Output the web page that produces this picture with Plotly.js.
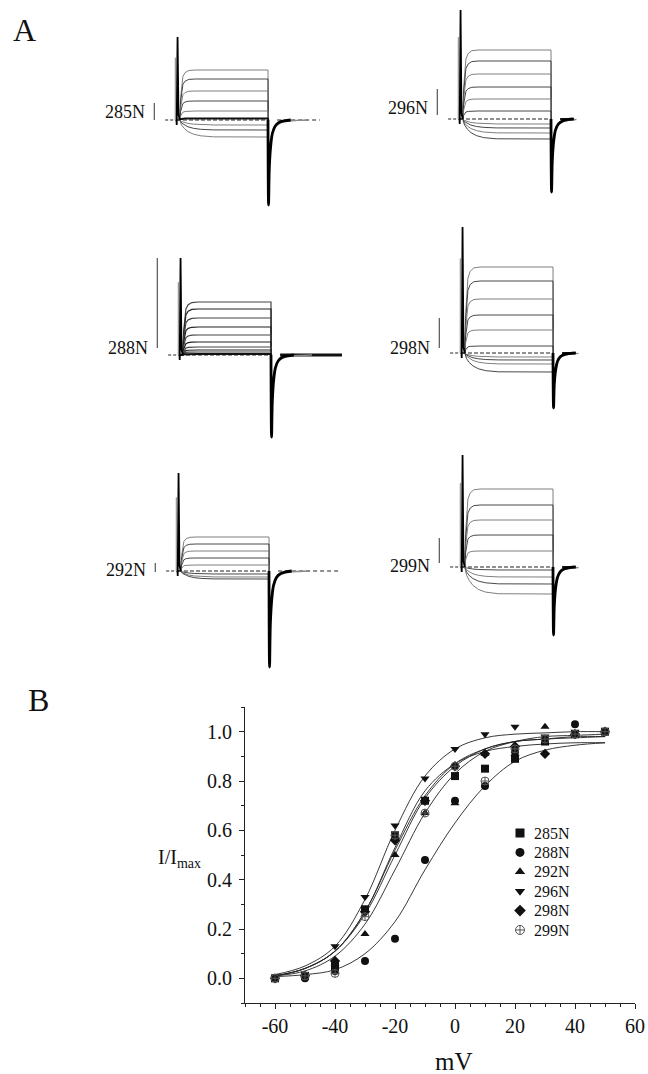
<!DOCTYPE html>
<html>
<head>
<meta charset="utf-8">
<script src="https://cdn.plot.ly/plotly-3.0.1.min.js"></script>
<style>html,body{margin:0;padding:0;background:#fff;}#chart{width:648px;height:1074px;}</style>
</head>
<body>
<div id="chart"></div>
<script>
// ---------------- Panel A data (current traces, arbitrary units relative to baseline) ----------
const mutants = ["285N", "296N", "288N", "298N", "292N", "299N"];
// steady-state current levels of each sweep
const levels285 = [50, 41, 29, 19, 9, 1.5, -5, -10, -17];
const levels296 = [69, 58, 45, 32, 20, 8, -5, -9, -14, -20];
const levels288 = [53, 46, 37, 28, 20, 13, 8, 5, 3, 1];
const levels298 = [86, 72, 54, 38, 23, 7, -4, -7, -11, -19];
const levels292 = [34, 27, 20, 13, 6, -3, -6, -8];
const levels299 = [78, 62, 47, 32, 16, -3, -10, -17, -27];
// capacitive transient peak at pulse onset, tail current minimum at pulse end
const spikeTop = [83, 109, 97, 126, 98, 112];
const tailMin = [-85, -73, -82, -55, -96, -68];
// scale-bar extent for each panel
const barLow = [0, 4, 7, 5, -1, 4];
const barHigh = [17, 30, 97, 35, 8, 29];
// sweep timing (ms)
const pulseStart = 3, pulseEnd = 100;
const sweepEnd = [157, 125, 178, 125, 178, 125];
const riseT = [0, 1, 2, 3.5, 6, 10, 17];          // fast activation time points after onset
const riseF = [0, 0.45, 0.7, 0.87, 0.95, 0.99, 1];
const slowT = [0, 2, 5, 9, 15, 23, 37];           // slow (inward) activation
const slowF = [0, 0.3, 0.5, 0.68, 0.83, 0.93, 0.99];
const tailT = [0, 0.6, 1.5, 3, 5, 8, 12, 18, 25];
const tailF = [0, 1, 0.55, 0.3, 0.15, 0.07, 0.03, 0.01, 0];

// ---------------- Panel B data (activation curves) ----------
const voltages = [-60, -50, -40, -30, -20, -10, 0, 10, 20, 30, 40, 50];
const norm285 = [0.00, 0.01, 0.05, 0.28, 0.58, 0.72, 0.82, 0.85, 0.89, 0.96, 0.99, 1.00];
const norm288 = [0.00, 0.00, 0.03, 0.07, 0.16, 0.48, 0.72, 0.78, 0.92, 0.97, 1.03, 1.00];
const norm292 = [0.00, 0.01, 0.06, 0.18, 0.50, 0.67, 0.71, 0.91, 0.91, 1.02, 0.99, 1.00];
const norm296 = [0.00, 0.01, 0.13, 0.33, 0.62, 0.81, 0.93, 0.99, 1.02, 0.98, 1.00, 1.00];
const norm298 = [0.00, 0.01, 0.07, 0.27, 0.56, 0.72, 0.86, 0.91, 0.94, 0.91, 0.99, 1.00];
const norm299 = [0.00, 0.01, 0.02, 0.25, 0.58, 0.67, 0.86, 0.80, 0.93, 0.97, 0.99, 1.00];
const fit285 = [0.01, 0.04, 0.11, 0.27, 0.52, 0.74, 0.87, 0.93, 0.96, 0.97, 0.975, 0.98];
const fit288 = [0.007, 0.015, 0.035, 0.10, 0.23, 0.44, 0.63, 0.78, 0.88, 0.925, 0.945, 0.955];
const fit292 = [0.01, 0.03, 0.09, 0.22, 0.44, 0.67, 0.83, 0.92, 0.96, 0.98, 0.985, 0.99];
const fit296 = [0.015, 0.05, 0.13, 0.32, 0.60, 0.82, 0.93, 0.975, 0.99, 0.995, 1.0, 1.0];
const fit298 = [0.01, 0.04, 0.11, 0.27, 0.53, 0.76, 0.87, 0.92, 0.94, 0.95, 0.955, 0.955];
const fit299 = [0.01, 0.04, 0.11, 0.26, 0.50, 0.73, 0.86, 0.93, 0.96, 0.97, 0.98, 0.98];
const tickVolts = [-60, -40, -20, 0, 20, 40, 60];

// ---------------- layout geometry ----------------
const W = 648, H = 1074;
const SERIF = "Liberation Serif, Times New Roman, serif";
const pxPerMs = 0.91;
const panelGeom = [ // spike x (px), baseline y (px), label y offset, post-tail style
  {sx: 177, by: 120, ly: 8, post: "dash"},
  {sx: 460, by: 119, ly: 11, post: "solid"},
  {sx: 180, by: 355, ly: 7, post: "thick"},
  {sx: 462, by: 353, ly: 5, post: "solid"},
  {sx: 178, by: 571, ly: 1, post: "dash"},
  {sx: 462, by: 567, ly: 1, post: "solid"}
];
const allLevels = [levels285, levels296, levels288, levels298, levels292, levels299];

const traces = [];
const layout = {
  width: W, height: H,
  margin: {l: 0, r: 0, t: 0, b: 0},
  paper_bgcolor: "#fff", plot_bgcolor: "rgba(0,0,0,0)",
  showlegend: false,
  font: {family: SERIF, color: "#111"},
  annotations: []
};

mutants.forEach((name, i) => {
  const k = i + 1;
  const xa = "x" + k, ya = "y" + k;
  const g = panelGeom[i];
  const tMin = -52, tMax = sweepEnd[i] + 3;
  const yMin = -105, yMax = Math.min(132, g.by - 1);
  layout["xaxis" + k] = {
    domain: [(g.sx + tMin * pxPerMs) / W, (g.sx + tMax * pxPerMs) / W],
    range: [tMin, tMax], visible: false, fixedrange: true, anchor: ya
  };
  layout["yaxis" + k] = {
    domain: [(H - (g.by - yMin)) / H, (H - (g.by - yMax)) / H],
    range: [yMin, yMax], visible: false, fixedrange: true, anchor: xa
  };
  const common = {xaxis: xa, yaxis: ya, showlegend: false, hoverinfo: "skip", mode: "lines"};
  const noisy = g.post === "thick";
  // dashed baseline before and under the pulse
  traces.push(Object.assign({}, common, {
    x: [-13, 0], y: [0, 0],
    line: {color: "#222", width: 1, dash: "3px,2px"}
  }));
  traces.push(Object.assign({}, common, {
    x: [0, pulseEnd], y: [0, 0],
    line: {color: "#222", width: 1, dash: "4px,2px"}
  }));
  // scale bar
  traces.push(Object.assign({}, common, {
    x: [-25, -25], y: [barLow[i], barHigh[i]],
    line: {color: "#333", width: 1}
  }));
  // sweeps
  allLevels[i].forEach((L, j) => {
    const tt = L >= 0 ? riseT : slowT;
    const ff = L >= 0 ? riseF : slowF;
    const xs = [0], ys = [0];
    tt.forEach((t, m) => { xs.push(pulseStart + t); ys.push(L * ff[m]); });
    xs.push(pulseEnd, pulseEnd + 0.3);
    ys.push(L, 0);
    const nearZero = Math.abs(L) < 2;
    let col = j % 2 ? "#333" : "#707070";
    let wid = 0.9;
    if (noisy) { col = j % 2 ? "#222" : "#444"; wid = 1.2; }
    if (nearZero) { col = "#111"; wid = 2; }
    traces.push(Object.assign({}, common, {x: xs, y: ys, line: {color: col, width: wid}}));
  });
  // post-pulse baseline
  const postLine = g.post === "dash" ? {color: "#222", width: 1, dash: "4px,3px"}
                 : g.post === "thick" ? {color: "#111", width: 3}
                 : {color: "#111", width: 2};
  traces.push(Object.assign({}, common, {
    x: [pulseEnd + 10, sweepEnd[i]], y: [0, 0], line: postLine
  }));
  // capacitive transient at onset
  traces.push(Object.assign({}, common, {
    x: [-2, -1.8, -1.6], y: [0, spikeTop[i] * 0.75, 0],
    line: {color: "#9a9a9a", width: 1}
  }));
  traces.push(Object.assign({}, common, {
    x: [-0.6, -0.3, 0.6, 1.6, 3], y: [0, -5, spikeTop[i], 6, 0],
    line: {color: "#000", width: 1.8}
  }));
  // tail currents
  traces.push(Object.assign({}, common, {
    x: tailT.map(t => pulseEnd + t * 1.8), y: tailF.map(f => f * tailMin[i] * 0.45),
    line: {color: "#8a8a8a", width: 1.4, shape: "spline"}
  }));
  traces.push(Object.assign({}, common, {
    x: tailT.map(t => pulseEnd + t), y: tailF.map(f => f * tailMin[i]),
    line: {color: "#000", width: 2.8, shape: "spline"}
  }));
  // label
  layout.annotations.push({
    xref: xa, yref: ya, x: -33, y: g.ly, xanchor: "right", yanchor: "middle",
    text: name, showarrow: false, font: {family: SERIF, size: 18, color: "#111"}
  });
});

// ---------------- Panel B ----------------
const seriesB = [
  {name: "285N", y: norm285, fit: fit285, symbol: "square", color: "#111"},
  {name: "288N", y: norm288, fit: fit288, symbol: "circle", color: "#111"},
  {name: "292N", y: norm292, fit: fit292, symbol: "triangle-up", color: "#111"},
  {name: "296N", y: norm296, fit: fit296, symbol: "triangle-down", color: "#111"},
  {name: "298N", y: norm298, fit: fit298, symbol: "diamond", color: "#111"},
  {name: "299N", y: norm299, fit: fit299, symbol: "circle-cross-open", color: "#555"}
];
seriesB.forEach(s => {
  traces.push({
    x: voltages, y: s.fit, xaxis: "x7", yaxis: "y7", mode: "lines",
    line: {color: "#222", width: 0.9, shape: "spline", smoothing: 1},
    showlegend: false, hoverinfo: "skip"
  });
});
const markerOf = s => ({symbol: s.symbol, size: 8, color: s.color,
  line: {width: s.symbol === "circle-cross-open" ? 1 : 0, color: s.color}});
seriesB.forEach(s => {
  traces.push({
    x: voltages, y: s.y, xaxis: "x7", yaxis: "y7", mode: "markers", name: s.name,
    marker: markerOf(s), showlegend: false, cliponaxis: false
  });
});
// legend drawn as its own small subplot
seriesB.forEach((s, idx) => {
  traces.push({
    x: [15], y: [idx], xaxis: "x8", yaxis: "y8", mode: "markers", name: s.name,
    marker: Object.assign(markerOf(s), {size: 9}), showlegend: false, hoverinfo: "skip"
  });
  layout.annotations.push({
    xref: "x8", yref: "y8", x: 27, y: idx, xanchor: "left", yanchor: "middle",
    text: s.name, showarrow: false, font: {family: SERIF, size: 16, color: "#111"}
  });
});
layout.xaxis8 = {domain: [505 / W, 625 / W], range: [0, 120], visible: false, fixedrange: true, anchor: "y8"};
layout.yaxis8 = {domain: [(H - 939.7) / H, (H - 823.3) / H], range: [5.5, -0.5], visible: false, fixedrange: true, anchor: "x8"};

const axisFont = {family: SERIF, size: 20, color: "#111"};
layout.xaxis7 = {
  domain: [245 / W, 635 / W], range: [-70, 60], anchor: "y7",
  tickmode: "array", tickvals: tickVolts, ticktext: tickVolts.map(String),
  ticks: "outside", ticklen: 5, tickcolor: "#222", tickwidth: 1,
  minor: {dtick: 5, tick0: 0, ticks: "outside", ticklen: 3, tickcolor: "#222"},
  showline: true, linecolor: "#222", linewidth: 1, showgrid: false, zeroline: false,
  tickfont: axisFont, fixedrange: true
};
layout.yaxis7 = {
  domain: [(H - 1003) / H, (H - 707) / H], range: [-0.1, 1.1], anchor: "x7",
  dtick: 0.2, tick0: 0, tickformat: ".1f",
  ticks: "outside", ticklen: 5, tickcolor: "#222", tickwidth: 1, ticklabelstandoff: 3,
  minor: {dtick: 0.1, tick0: 0, ticks: "outside", ticklen: 3, tickcolor: "#222"},
  showline: true, linecolor: "#222", linewidth: 1, showgrid: false, zeroline: false,
  tickfont: axisFont, fixedrange: true
};
layout.annotations.push(
  {xref: "paper", yref: "paper", x: 454 / W, y: (H - 1061) / H, xanchor: "center", yanchor: "middle",
   text: "mV", showarrow: false, font: {family: SERIF, size: 25, color: "#111"}},
  {xref: "paper", yref: "paper", x: 179 / W, y: (H - 858) / H, xanchor: "center", yanchor: "middle",
   text: "I/I<sub>max</sub>", showarrow: false, font: {family: SERIF, size: 20, color: "#111"}},
  {xref: "paper", yref: "paper", x: 24 / W, y: (H - 30) / H, xanchor: "center", yanchor: "middle",
   text: "A", showarrow: false, font: {family: SERIF, size: 32, color: "#111"}},
  {xref: "paper", yref: "paper", x: 38 / W, y: (H - 700) / H, xanchor: "center", yanchor: "middle",
   text: "B", showarrow: false, font: {family: SERIF, size: 32, color: "#111"}}
);

Plotly.newPlot("chart", traces, layout, {staticPlot: true, displayModeBar: false});
</script>
</body>
</html>
